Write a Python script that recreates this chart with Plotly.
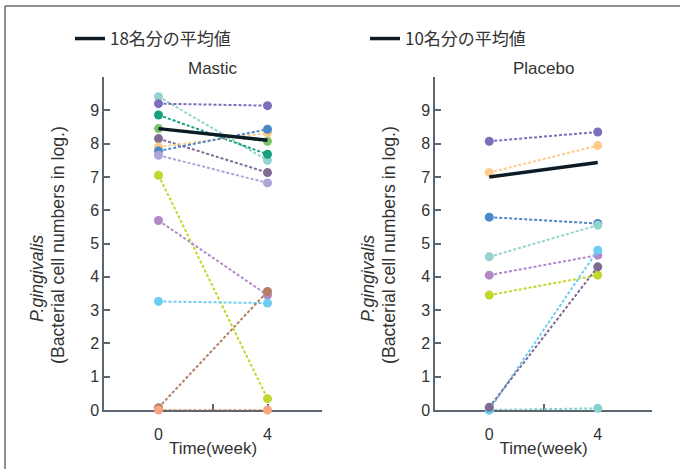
import plotly.graph_objects as go

# ---------------- data ----------------
weeks = [0, 4]

mastic_colors = ["#93d4cf", "#7a6fbb", "#17a07c", "#7cc36e", "#7f6a94", "#fdcb8a",
                 "#4a86c8", "#aba5d8", "#c2d62b", "#b388c8", "#6ccdf2", "#b47d63", "#f6a580"]
mastic_w0 = [9.41, 9.20, 8.86, 8.45, 8.15, 7.90, 7.78, 7.65, 7.05, 5.69, 3.26, 0.07, 0.00]
mastic_w4 = [7.50, 9.14, 7.68, 8.07, 7.13, 8.32, 8.43, 6.82, 0.34, 3.45, 3.21, 3.56, 0.00]
mastic_mean = [8.45, 8.10]

placebo_colors = ["#88cfd0", "#7a6fbb", "#fdcb8a", "#4a86c8", "#93d4cf", "#b388c8",
                  "#c2d62b", "#6ccdf2", "#7f6a94"]
placebo_w0 = [0.00, 8.07, 7.13, 5.79, 4.60, 4.05, 3.45, 0.00, 0.08]
placebo_w4 = [0.05, 8.35, 7.94, 5.60, 5.55, 4.65, 4.05, 4.80, 4.30]
placebo_mean = [7.00, 7.43]

y_tickvals = list(range(0, 11))
y_ticktext = [str(v) for v in range(0, 10)] + [""]
x_tickvals = [0, 2, 4, 6]
x_ticktext = ["0", "", "4", ""]

legend_texts = ["18名分の平均値", "10名分の平均値"]
panel_titles = ["Mastic", "Placebo"]
ytitle_line1 = "P.gingivalis"
ytitle_line2 = "(Bacterial cell numbers in log.)"
xtitle = "Time(week)"

# ---------------- figure ----------------
W, H = 680, 469
fig = go.Figure()

def px_x(p):
    return p / W

def px_y(p):
    return 1 - p / H

def add_panel(w0, w4, colors, mean, xa, ya, legend_name, legend_text):
    for a, b, c in zip(w0, w4, colors):
        fig.add_trace(go.Scatter(
            x=weeks, y=[a, b], xaxis=xa, yaxis=ya, mode="lines+markers",
            line=dict(color=c, width=2, dash="3px,2px"),
            marker=dict(color=c, size=9),
            cliponaxis=False, showlegend=False, hoverinfo="skip"))
    fig.add_trace(go.Scatter(
        x=weeks, y=mean, xaxis=xa, yaxis=ya, mode="lines",
        line=dict(color="#0d1b26", width=3.5),
        cliponaxis=False, name=legend_text, legend=legend_name, showlegend=True))

add_panel(mastic_w0, mastic_w4, mastic_colors, mastic_mean, "x", "y", "legend", legend_texts[0])
add_panel(placebo_w0, placebo_w4, placebo_colors, placebo_mean, "x2", "y2", "legend2", legend_texts[1])

FONT = "Liberation Sans, Arial, sans-serif"
TXT = "#333333"
axis_color = "#5b6670"
tick_font = dict(family=FONT, size=16, color=TXT)

ydom = [px_y(410), px_y(77)]
xdoms = [[px_x(104), px_x(322)], [px_x(435), px_x(652)]]

common_x = dict(range=[-2, 6], tickvals=x_tickvals, ticktext=x_ticktext,
                showline=True, linecolor=axis_color, linewidth=1.5,
                ticks="inside", ticklen=6, tickwidth=1.5, tickcolor=axis_color,
                showgrid=False, zeroline=False, tickfont=tick_font,
                layer="below traces", automargin=False, ticklabelstandoff=9,
                title=dict(text=xtitle, font=dict(family=FONT, size=17, color=TXT), standoff=0))
common_y = dict(range=[0, 10], tickvals=y_tickvals, ticktext=y_ticktext,
                showline=True, linecolor=axis_color, linewidth=1.5,
                ticks="inside", ticklen=6, tickwidth=1.5, tickcolor=axis_color,
                showgrid=False, zeroline=False, tickfont=tick_font,
                layer="below traces", domain=ydom, automargin=False)

fig.update_layout(
    width=W, height=H, autosize=False,
    margin=dict(l=0, r=0, t=0, b=0, autoexpand=False),
    paper_bgcolor="white", plot_bgcolor="white",
    font=dict(family=FONT, color=TXT),
    xaxis=dict(domain=xdoms[0], anchor="y", **common_x),
    yaxis=dict(anchor="x", **common_y),
    xaxis2=dict(domain=xdoms[1], anchor="y2", **common_x),
    yaxis2=dict(anchor="x2", **common_y),
    legend=dict(x=px_x(70), y=px_y(39), xanchor="left", yanchor="middle",
                bgcolor="rgba(0,0,0,0)", borderwidth=0,
                font=dict(family="Noto Sans CJK JP", size=17, color=TXT)),
    legend2=dict(x=px_x(365), y=px_y(39), xanchor="left", yanchor="middle",
                 bgcolor="rgba(0,0,0,0)", borderwidth=0,
                 font=dict(family="Noto Sans CJK JP", size=17, color=TXT)),
)

title_font = dict(family=FONT, size=17, color=TXT)
for t, cx in zip(panel_titles, [213, 543]):
    fig.add_annotation(text=t, x=px_x(cx), y=px_y(68), xref="paper", yref="paper",
                       showarrow=False, font=title_font, xanchor="center", yanchor="middle")

ylab_font = dict(family=FONT, size=17.7, color=TXT)
for x1, x2 in [(37, 58), (368, 389)]:
    fig.add_annotation(text="<i>" + ytitle_line1 + "</i>", x=px_x(x1), y=px_y(279),
                       xref="paper", yref="paper", showarrow=False, textangle=-90,
                       font=ylab_font, xanchor="center", yanchor="middle")
    fig.add_annotation(text=ytitle_line2, x=px_x(x2), y=px_y(245),
                       xref="paper", yref="paper", showarrow=False, textangle=-90,
                       font=ylab_font, xanchor="center", yanchor="middle")

# outer frame (top and left edges)
frame_color = "#6b6b6b"
fig.add_shape(type="line", xref="paper", yref="paper", x0=px_x(5), x1=1, y0=px_y(6), y1=px_y(6),
              line=dict(color=frame_color, width=1.5))
fig.add_shape(type="line", xref="paper", yref="paper", x0=px_x(5), x1=px_x(5), y0=px_y(6), y1=0,
              line=dict(color=frame_color, width=1.5))

fig.write_html("out.html", config={"displayModeBar": False},
               post_script="document.body.style.margin='0';")
